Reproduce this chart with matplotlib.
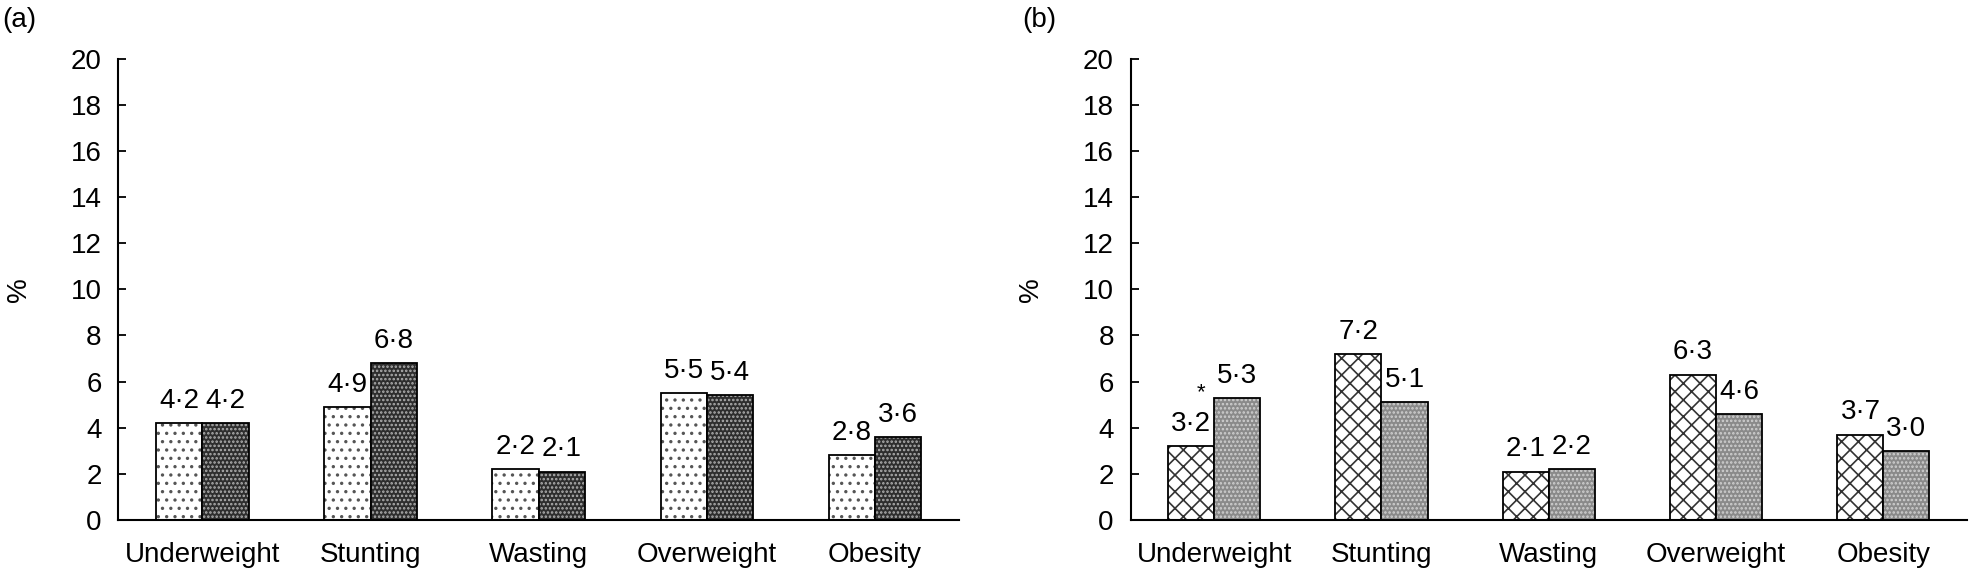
import matplotlib.pyplot as plt
import numpy as np

plt.rcParams['font.family'] = ['Liberation Sans', 'DejaVu Sans']
plt.rcParams['hatch.linewidth'] = 1.2

categories = ['Underweight', 'Stunting', 'Wasting', 'Overweight', 'Obesity']
a_first = [4.2, 4.9, 2.2, 5.5, 2.8]
a_second = [4.2, 6.8, 2.1, 5.4, 3.6]
b_first = [3.2, 7.2, 2.1, 6.3, 3.7]
b_second = [5.3, 5.1, 2.2, 4.6, 3.0]
b_marks = ['*', '', '', '', '']
yticks = [0, 2, 4, 6, 8, 10, 12, 14, 16, 18, 20]


def fmt(v):
    return f"{v:.1f}".replace('.', '·')


def hbar(ax, x, h, w, fc, hatch, hc):
    ax.bar(x, h, w, color=fc, hatch=hatch, edgecolor=hc, linewidth=0)
    ax.bar(x, h, w, fill=False, edgecolor='black', linewidth=1.3)


def panel(ax, s1, s2, style1, style2, marks=None):
    x = np.arange(len(categories))
    w = 0.275
    hbar(ax, x - w / 2, s1, w, *style1)
    hbar(ax, x + w / 2, s2, w, *style2)
    for i in range(len(x)):
        ax.text(x[i] - w / 2, s1[i] + 0.4, fmt(s1[i]), ha='center', va='bottom', fontsize=20)
        ax.text(x[i] + w / 2, s2[i] + 0.4, fmt(s2[i]), ha='center', va='bottom', fontsize=20)
        if marks and marks[i]:
            ax.text(x[i] - w / 2 + 0.06, s1[i] + 1.85, marks[i], ha='center', va='bottom', fontsize=16)
    ax.set_xlim(-0.5, 4.5)
    ax.set_ylim(0, 20)
    ax.set_yticks(yticks)
    ax.set_xticks(x)
    ax.set_xticklabels(categories, fontsize=20)
    ax.tick_params(axis='x', length=0, pad=16)
    ax.tick_params(axis='y', direction='in', length=6, width=1.3, labelsize=20, pad=12)
    ax.spines['right'].set_visible(False)
    ax.spines['top'].set_visible(False)
    ax.spines['left'].set_linewidth(1.5)
    ax.spines['bottom'].set_linewidth(1.5)
    ax.set_ylabel('%', fontsize=20, labelpad=28)


fig = plt.figure(figsize=(19.73, 5.73), dpi=100)
ax1 = fig.add_axes([0.060, 0.0925, 0.426, 0.805])
ax2 = fig.add_axes([0.573, 0.0925, 0.424, 0.805])

panel(ax1, a_first, a_second, ('white', '..', '#555555'), ('#2e2e2e', '....', '#b0b0b0'))
panel(ax2, b_first, b_second, ('white', 'xx', '#333333'), ('#8a8a8a', '....', '#d0d0d0'), b_marks)

fig.text(0.001, 0.965, '(a)', fontsize=20, va='center')
fig.text(0.518, 0.965, '(b)', fontsize=20, va='center')

plt.savefig('out.png', dpi=100)
